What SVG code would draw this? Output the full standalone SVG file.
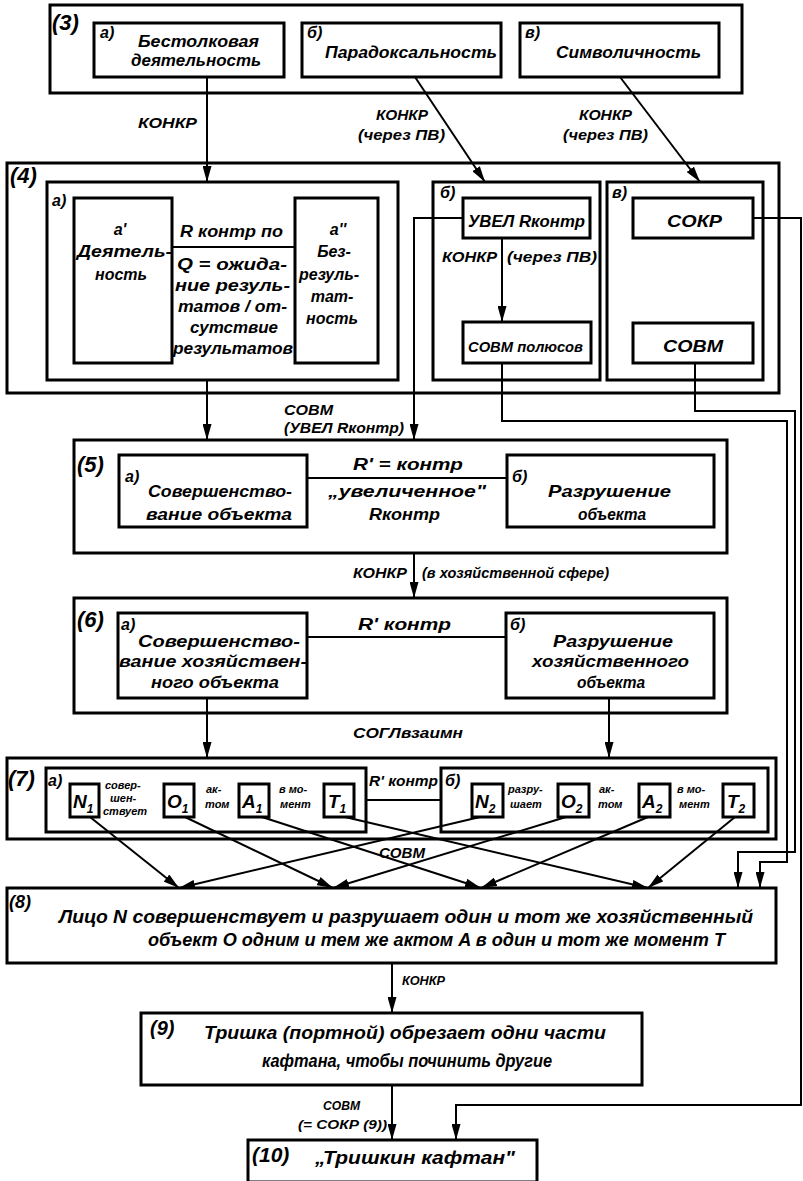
<svg xmlns="http://www.w3.org/2000/svg" width="803" height="1181" viewBox="0 0 803 1181">
<style>
.t{font-family:"Liberation Sans",Arial,sans-serif;font-weight:bold;font-style:italic;fill:#000}
.bx{fill:#fff;stroke:#000;stroke-width:3}
.ob{fill:#fff;stroke:#000;stroke-width:3}
.ln{fill:none;stroke:#000;stroke-width:2}
.s22{font-size:22px}.s17{font-size:17px}.s16{font-size:16px}.s14{font-size:14px}.s13{font-size:13px}.s11{font-size:11px}.s19{font-size:19px}
.m{text-anchor:middle}
</style>
<defs>
<marker id="ar" markerUnits="userSpaceOnUse" markerWidth="16" markerHeight="9" refX="16" refY="4.5" orient="auto">
<path d="M0,0 L16,4.5 L0,9 z" fill="#000"/>
</marker>
</defs>
<rect width="803" height="1181" fill="#fff"/>

<g id="n3">
<rect class="ob" x="50" y="5" width="692" height="88"/>
<text class="t s22" x="52" y="30">(3)</text>
</g>
<g id="n3a">
<rect class="bx" x="94" y="23" width="190" height="54"/>
<text class="t s16" x="100" y="38">а)</text>
<text class="t s17" x="138" y="47" textLength="121" lengthAdjust="spacingAndGlyphs">Бестолковая</text>
<text class="t s17" x="131" y="66" textLength="130" lengthAdjust="spacingAndGlyphs">деятельность</text>
</g>
<g id="n3b">
<rect class="bx" x="302" y="23" width="199" height="54"/>
<text class="t s16" x="307" y="38">б)</text>
<text class="t s17" x="325" y="58" textLength="172" lengthAdjust="spacingAndGlyphs">Парадоксальность</text>
</g>
<g id="n3v">
<rect class="bx" x="520" y="23" width="199" height="54"/>
<text class="t s16" x="525" y="38">в)</text>
<text class="t s17" x="556" y="58" textLength="145" lengthAdjust="spacingAndGlyphs">Символичность</text>
</g>

<g id="n4">
<rect class="ob" x="7" y="163" width="772" height="230"/>
<text class="t s22" x="10" y="183">(4)</text>
</g>
<g id="n4a">
<rect class="bx" x="47" y="182" width="351" height="198"/>
<text class="t s16" x="52" y="206">а)</text>
<text class="t s16" x="180" y="237" textLength="103" lengthAdjust="spacingAndGlyphs">R контр по</text>
<text class="t s16" x="177" y="270" textLength="110" lengthAdjust="spacingAndGlyphs">Q = ожида-</text>
<text class="t s16" x="175" y="291" textLength="115" lengthAdjust="spacingAndGlyphs">ние резуль-</text>
<text class="t s16" x="178" y="312" textLength="109" lengthAdjust="spacingAndGlyphs">татов / от-</text>
<text class="t s16" x="190" y="333" textLength="88" lengthAdjust="spacingAndGlyphs">сутствие</text>
<text class="t s16" x="173" y="354" textLength="120" lengthAdjust="spacingAndGlyphs">результатов</text>
</g>
<g id="n4a1">
<rect class="bx" x="74" y="198" width="98" height="165"/>
<text class="t s16 m" x="120" y="235">а'</text>
<text class="t s16" x="77" y="257" textLength="95" lengthAdjust="spacingAndGlyphs">Деятель-</text>
<text class="t s16 m" x="121" y="280">ность</text>
</g>
<g id="n4a2">
<rect class="bx" x="295" y="198" width="83" height="165"/>
<text class="t s16 m" x="338" y="235">а''</text>
<text class="t s16 m" x="334" y="257">Без-</text>
<text class="t s16 m" x="329" y="280">резуль-</text>
<text class="t s16 m" x="332" y="302">тат-</text>
<text class="t s16 m" x="332" y="324">ность</text>
</g>
<g id="n4b">
<rect class="bx" x="433" y="182" width="167" height="198"/>
<text class="t s16" x="440" y="198">б)</text>
<text class="t s14" x="442" y="262" textLength="55" lengthAdjust="spacingAndGlyphs">КОНКР</text>
<text class="t s14" x="507" y="262" textLength="90" lengthAdjust="spacingAndGlyphs">(через ПВ)</text>
</g>
<g id="n4b1">
<rect class="bx" x="463" y="198" width="127" height="40"/>
<text class="t s16" x="468" y="227" textLength="117" lengthAdjust="spacingAndGlyphs">УВЕЛ Rконтр</text>
</g>
<g id="n4b2">
<rect class="bx" x="463" y="322" width="128" height="41"/>
<text class="t s14" x="468" y="352" textLength="115" lengthAdjust="spacingAndGlyphs">СОВМ полюсов</text>
</g>
<g id="n4v">
<rect class="bx" x="607" y="182" width="156" height="198"/>
<text class="t s16" x="612" y="198">в)</text>
</g>
<g id="n4v1">
<rect class="bx" x="633" y="198" width="120" height="40"/>
<text class="t s17" x="667" y="227" textLength="55" lengthAdjust="spacingAndGlyphs">СОКР</text>
</g>
<g id="n4v2">
<rect class="bx" x="633" y="323" width="120" height="40"/>
<text class="t s17" x="663" y="352" textLength="60" lengthAdjust="spacingAndGlyphs">СОВМ</text>
</g>

<g id="n5">
<rect class="ob" x="74" y="440" width="653" height="113"/>
<text class="t s22" x="77" y="472">(5)</text>
<text class="t s16" x="353" y="470" textLength="110" lengthAdjust="spacingAndGlyphs">R' = контр</text>
<text class="t s16" x="328" y="497" textLength="158" lengthAdjust="spacingAndGlyphs">„увеличенное"</text>
<text class="t s16" x="369" y="520" textLength="71" lengthAdjust="spacingAndGlyphs">Rконтр</text>
</g>
<g id="n5a">
<rect class="bx" x="119" y="455" width="188" height="72"/>
<text class="t s16" x="125" y="482">а)</text>
<text class="t s17" x="148" y="497" textLength="144" lengthAdjust="spacingAndGlyphs">Совершенство-</text>
<text class="t s17" x="146" y="520" textLength="146" lengthAdjust="spacingAndGlyphs">вание объекта</text>
</g>
<g id="n5b">
<rect class="bx" x="507" y="455" width="207" height="72"/>
<text class="t s16" x="512" y="482">б)</text>
<text class="t s17" x="548" y="497" textLength="123" lengthAdjust="spacingAndGlyphs">Разрушение</text>
<text class="t s17" x="578" y="520" textLength="68" lengthAdjust="spacingAndGlyphs">объекта</text>
</g>

<g id="n6">
<rect class="ob" x="74" y="598" width="653" height="115"/>
<text class="t s22" x="77" y="627">(6)</text>
<text class="t s16" x="358" y="630" textLength="93" lengthAdjust="spacingAndGlyphs">R' контр</text>
</g>
<g id="n6a">
<rect class="bx" x="118" y="613" width="189" height="85"/>
<text class="t s16" x="121" y="630">а)</text>
<text class="t s17" x="138" y="647" textLength="162" lengthAdjust="spacingAndGlyphs">Совершенство-</text>
<text class="t s17" x="119" y="667" textLength="188" lengthAdjust="spacingAndGlyphs">вание хозяйствен-</text>
<text class="t s17" x="151" y="688" textLength="128" lengthAdjust="spacingAndGlyphs">ного объекта</text>
</g>
<g id="n6b">
<rect class="bx" x="506" y="613" width="208" height="85"/>
<text class="t s16" x="510" y="630">б)</text>
<text class="t s17" x="553" y="647" textLength="120" lengthAdjust="spacingAndGlyphs">Разрушение</text>
<text class="t s17" x="532" y="667" textLength="157" lengthAdjust="spacingAndGlyphs">хозяйственного</text>
<text class="t s17" x="577" y="688" textLength="68" lengthAdjust="spacingAndGlyphs">объекта</text>
</g>

<g id="n7">
<rect class="ob" x="7" y="758" width="769" height="81"/>
<text class="t s22" x="8" y="786">(7)</text>
<text class="t s14" x="369" y="786" textLength="69" lengthAdjust="spacingAndGlyphs">R' контр</text>
</g>
<g id="n7a">
<rect class="bx" x="46" y="768" width="320" height="64"/>
<text class="t s16" x="48" y="786">а)</text>
<text class="t s11" x="105" y="789">совер-</text>
<text class="t s11" x="110" y="802">шен-</text>
<text class="t s11" x="103" y="815">ствует</text>
<text class="t s11" x="206" y="793">ак-</text>
<text class="t s11" x="205" y="808">том</text>
<text class="t s11" x="279" y="793">в мо-</text>
<text class="t s11" x="280" y="808">мент</text>
</g>
<g id="n7aN"><rect class="bx" x="70" y="784" width="29" height="33"/><text class="t s19" x="73" y="808">N<tspan font-size="12" dy="5">1</tspan></text></g>
<g id="n7aO"><rect class="bx" x="164" y="784" width="30" height="33"/><text class="t s19" x="167" y="808">O<tspan font-size="12" dy="5">1</tspan></text></g>
<g id="n7aA"><rect class="bx" x="239" y="784" width="30" height="33"/><text class="t s19" x="242" y="808">A<tspan font-size="12" dy="5">1</tspan></text></g>
<g id="n7aT"><rect class="bx" x="324" y="784" width="30" height="33"/><text class="t s19" x="328" y="808">T<tspan font-size="12" dy="5">1</tspan></text></g>
<g id="n7b">
<rect class="bx" x="441" y="768" width="327" height="64"/>
<text class="t s16" x="445" y="786">б)</text>
<text class="t s11" x="508" y="793">разру-</text>
<text class="t s11" x="510" y="808">шает</text>
<text class="t s11" x="599" y="793">ак-</text>
<text class="t s11" x="598" y="808">том</text>
<text class="t s11" x="677" y="793">в мо-</text>
<text class="t s11" x="679" y="808">мент</text>
</g>
<g id="n7bN"><rect class="bx" x="472" y="784" width="31" height="33"/><text class="t s19" x="475" y="808">N<tspan font-size="12" dy="5">2</tspan></text></g>
<g id="n7bO"><rect class="bx" x="558" y="784" width="31" height="33"/><text class="t s19" x="561" y="808">O<tspan font-size="12" dy="5">2</tspan></text></g>
<g id="n7bA"><rect class="bx" x="639" y="784" width="31" height="33"/><text class="t s19" x="642" y="808">A<tspan font-size="12" dy="5">2</tspan></text></g>
<g id="n7bT"><rect class="bx" x="723" y="784" width="31" height="33"/><text class="t s19" x="727" y="808">T<tspan font-size="12" dy="5">2</tspan></text></g>

<g id="n8">
<rect class="ob" x="7" y="888" width="769" height="75"/>
<text class="t" font-size="18" x="9" y="908">(8)</text>
<text class="t s19" x="59" y="923" textLength="694" lengthAdjust="spacingAndGlyphs">Лицо N совершенствует и разрушает один и тот же хозяйственный</text>
<text class="t s19" x="148" y="946" textLength="577" lengthAdjust="spacingAndGlyphs">объект O одним и тем же актом A в один и тот же момент T</text>
</g>
<g id="n9">
<rect class="ob" x="141" y="1013" width="501" height="72"/>
<text class="t" font-size="20" x="150" y="1035">(9)</text>
<text class="t s19" x="204" y="1039" textLength="402" lengthAdjust="spacingAndGlyphs">Тришка (портной) обрезает одни части</text>
<text class="t s19" x="262" y="1067" textLength="290" lengthAdjust="spacingAndGlyphs">кафтана, чтобы починить другие</text>
</g>
<g id="n10">
<rect class="ob" x="248" y="1140" width="289" height="42"/>
<text class="t" font-size="21" x="252" y="1162">(10)</text>
<text class="t s19" x="315" y="1164" textLength="200" lengthAdjust="spacingAndGlyphs">„Тришкин кафтан"</text>
</g>

<g id="connectors">
<line class="ln" x1="207" y1="77" x2="207" y2="182" marker-end="url(#ar)"/>
<line class="ln" x1="415" y1="77" x2="485" y2="182" marker-end="url(#ar)"/>
<line class="ln" x1="620" y1="77" x2="700" y2="182" marker-end="url(#ar)"/>
<text class="t s14" x="138" y="128" textLength="59" lengthAdjust="spacingAndGlyphs">КОНКР</text>
<text class="t s14" x="376" y="120" textLength="52" lengthAdjust="spacingAndGlyphs">КОНКР</text>
<text class="t s14" x="358" y="140" textLength="87" lengthAdjust="spacingAndGlyphs">(через ПВ)</text>
<text class="t s14" x="579" y="120" textLength="53" lengthAdjust="spacingAndGlyphs">КОНКР</text>
<text class="t s14" x="563" y="140" textLength="85" lengthAdjust="spacingAndGlyphs">(через ПВ)</text>

<line class="ln" x1="172" y1="247" x2="295" y2="247"/>
<line class="ln" x1="502" y1="238" x2="502" y2="322" marker-end="url(#ar)"/>

<line class="ln" x1="207" y1="380" x2="207" y2="440" marker-end="url(#ar)"/>
<polyline class="ln" points="463,218 414,218 414,440" marker-end="url(#ar)"/>
<text class="t s14" x="284" y="415" textLength="49" lengthAdjust="spacingAndGlyphs">СОВМ</text>
<text class="t s14" x="284" y="433" textLength="120" lengthAdjust="spacingAndGlyphs">(УВЕЛ Rконтр)</text>

<polyline class="ln" points="753,218 801,218 801,1105 456,1105 456,1140" marker-end="url(#ar)"/>
<polyline class="ln" points="695,363 695,411 795,411 795,852 738,852 738,888" marker-end="url(#ar)"/>
<polyline class="ln" points="502,363 502,421 787,421 787,862 760,862 760,888" marker-end="url(#ar)"/>

<line class="ln" x1="307" y1="478" x2="507" y2="478"/>
<line class="ln" x1="414" y1="553" x2="414" y2="598" marker-end="url(#ar)"/>
<text class="t s14" x="353" y="578" textLength="54" lengthAdjust="spacingAndGlyphs">КОНКР</text>
<text class="t s14" x="422" y="578" textLength="187" lengthAdjust="spacingAndGlyphs">(в хозяйственной сфере)</text>

<line class="ln" x1="307" y1="637" x2="506" y2="637"/>
<line class="ln" x1="207" y1="698" x2="207" y2="758" marker-end="url(#ar)"/>
<line class="ln" x1="609" y1="698" x2="609" y2="758" marker-end="url(#ar)"/>
<text class="t s14" x="353" y="738" textLength="110" lengthAdjust="spacingAndGlyphs">СОГЛвзаимн</text>

<line class="ln" x1="366" y1="800" x2="441" y2="800"/>
<line class="ln" x1="90" y1="817" x2="179" y2="888" marker-end="url(#ar)"/>
<line class="ln" x1="185" y1="817" x2="333" y2="888" marker-end="url(#ar)"/>
<line class="ln" x1="262" y1="817" x2="481" y2="888" marker-end="url(#ar)"/>
<line class="ln" x1="345" y1="817" x2="648" y2="888" marker-end="url(#ar)"/>
<line class="ln" x1="480" y1="817" x2="179" y2="888" marker-end="url(#ar)"/>
<line class="ln" x1="566" y1="817" x2="333" y2="888" marker-end="url(#ar)"/>
<line class="ln" x1="648" y1="817" x2="481" y2="888" marker-end="url(#ar)"/>
<line class="ln" x1="735" y1="817" x2="648" y2="888" marker-end="url(#ar)"/>
<text class="t s14" x="379" y="858" textLength="46" lengthAdjust="spacingAndGlyphs">СОВМ</text>

<line class="ln" x1="392" y1="963" x2="392" y2="1013" marker-end="url(#ar)"/>
<text class="t s13" x="402" y="985" textLength="43" lengthAdjust="spacingAndGlyphs">КОНКР</text>
<line class="ln" x1="392" y1="1085" x2="392" y2="1140" marker-end="url(#ar)"/>
<text class="t s13" x="323" y="1110" textLength="37" lengthAdjust="spacingAndGlyphs">СОВМ</text>
<text class="t s13" x="298" y="1129" textLength="89" lengthAdjust="spacingAndGlyphs">(= СОКР (9))</text>
</g>
</svg>
